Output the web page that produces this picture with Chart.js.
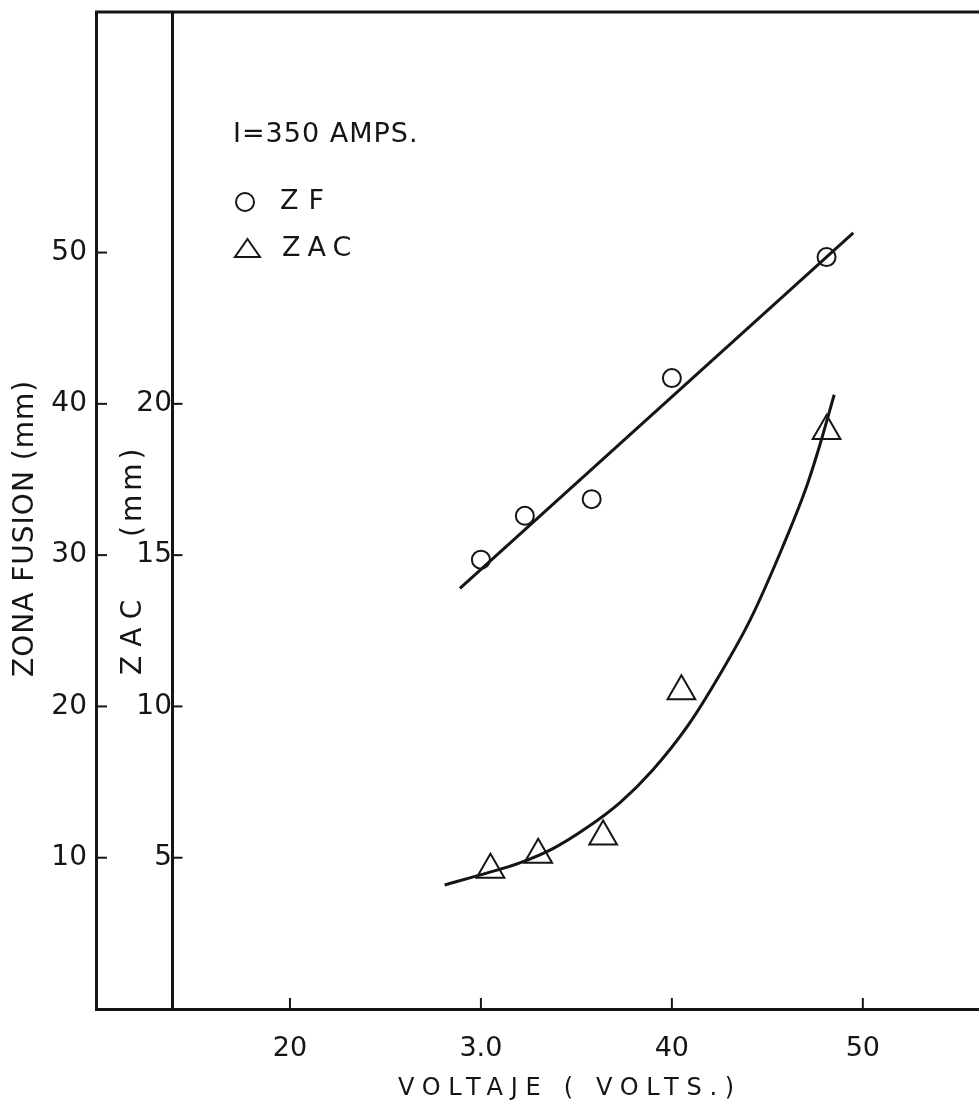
<!DOCTYPE html>
<html>
<head>
<meta charset="utf-8">
<script src="https://cdn.jsdelivr.net/npm/chart.js@4.4.1/dist/chart.umd.min.js"></script>
<style>
  html, body { margin: 0; padding: 0; background: #fff; overflow: hidden; }
  canvas { display: block; }
</style>
</head>
<body>
<!-- canvas a little wider than the window: the frame is open on the right, as in the scan -->
<canvas id="myChart" width="986" height="1111"></canvas>
<script>
// ZF (zona de fusion) measurements, circles
const zfVoltage = [30.0, 32.3, 35.8, 40.0, 48.1];
const zfWidth = [29.7, 32.6, 33.7, 41.7, 49.7];
// straight fit line through ZF, end points
const zfFitVoltage = [28.9, 49.5];
const zfFitWidth = [27.8, 51.3];

// ZAC measurements, triangles
const zacVoltage = [30.5, 33.0, 36.4, 40.5, 48.1];
const zacWidth = [4.6, 5.1, 5.7, 10.5, 19.1];
// hand drawn ZAC curve
const zacCurveVoltage = [28.1, 30.3, 32.0, 33.8, 35.5, 37.3, 39.0, 40.8, 42.5, 44.1, 45.8, 47.05, 47.75, 48.5];
const zacCurveWidth = [4.10, 4.49, 4.82, 5.31, 5.97, 6.83, 7.90, 9.33, 11.04, 12.86, 15.27, 17.26, 18.64, 20.30];

// tick labels
const voltTicks = [20, 30, 40, 50];
const voltTickLabels = ['20', '3.0', '40', '50'];
const zfTicks = [10, 20, 30, 40, 50];
const zacTicks = [5, 10, 15, 20];

const INK = '#151515';
const FONT = '"DejaVu Sans", sans-serif';

function pairs(xs, ys) {
  return xs.map((x, i) => ({ x: x, y: ys[i] }));
}

// no extra label padding, the frame must fill the page
function noPad(s) {
  s.paddingLeft = 0;
  s.paddingRight = 0;
  s.paddingTop = 0;
  s.paddingBottom = 0;
}

// frame top line, ZAC axis line, inward tick marks, titles and the legend block
const paperPlugin = {
  id: 'paper',
  afterDraw(chart) {
    const ctx = chart.ctx;
    const area = chart.chartArea;
    const sx = chart.scales.x;
    const sy = chart.scales.y;
    const sz = chart.scales.zac;

    ctx.save();
    ctx.strokeStyle = INK;
    ctx.lineCap = 'butt';

    // top line of the frame
    ctx.lineWidth = 3;
    ctx.beginPath();
    ctx.moveTo(area.left - 1, area.top);
    ctx.lineTo(area.right, area.top);
    ctx.stroke();

    // ZAC axis line
    const zx = Math.round(sx.getPixelForValue(sz.options.position.x)) + 0.5;
    ctx.beginPath();
    ctx.moveTo(zx, area.top);
    ctx.lineTo(zx, area.bottom);
    ctx.stroke();

    // inward ticks
    ctx.lineWidth = 2;
    zfTicks.forEach(v => {
      const y = sy.getPixelForValue(v);
      ctx.beginPath();
      ctx.moveTo(area.left, y);
      ctx.lineTo(area.left + 11, y);
      ctx.stroke();
    });
    zacTicks.forEach(v => {
      const y = sz.getPixelForValue(v);
      ctx.beginPath();
      ctx.moveTo(zx, y);
      ctx.lineTo(zx + 10, y);
      ctx.stroke();
    });
    voltTicks.forEach(v => {
      const x = sx.getPixelForValue(v);
      ctx.beginPath();
      ctx.moveTo(x, area.bottom);
      ctx.lineTo(x, area.bottom - 11);
      ctx.stroke();
    });

    ctx.fillStyle = INK;
    ctx.textBaseline = 'middle';
    ctx.textAlign = 'left';

    // x title
    ctx.font = '24px ' + FONT;
    ctx.letterSpacing = '7.7px';
    ctx.fillText('VOLTAJE ( VOLTS.)', 398, 1089);

    // left title, rotated
    ctx.save();
    ctx.translate(26, 677);
    ctx.rotate(-Math.PI / 2);
    ctx.font = '28px ' + FONT;
    ctx.letterSpacing = '1px';
    ctx.fillText('ZONA FUSION (mm)', 0, 0);
    ctx.restore();

    // ZAC title, rotated, with a gap for the 15 label
    ctx.save();
    ctx.translate(134, 675);
    ctx.rotate(-Math.PI / 2);
    ctx.font = '28px ' + FONT;
    ctx.letterSpacing = '9px';
    ctx.fillText('ZAC', 0, 0);
    ctx.letterSpacing = '4px';
    ctx.fillText('(mm)', 138, 0);
    ctx.restore();

    // legend block
    ctx.font = '27px ' + FONT;
    ctx.letterSpacing = '1px';
    ctx.fillText('I=350 AMPS.', 233, 135);
    ctx.letterSpacing = '10px';
    ctx.fillText('ZF', 280, 202);
    ctx.letterSpacing = '7px';
    ctx.fillText('ZAC', 282, 249);

    ctx.lineWidth = 2;
    ctx.beginPath();
    ctx.arc(245, 202, 9, 0, Math.PI * 2);
    ctx.stroke();
    ctx.beginPath();
    ctx.moveTo(247.5, 239);
    ctx.lineTo(260, 257);
    ctx.lineTo(235, 257);
    ctx.closePath();
    ctx.stroke();

    ctx.restore();
  }
};

const ctx = document.getElementById('myChart').getContext('2d');
new Chart(ctx, {
  type: 'scatter',
  data: {
    datasets: [
      {
        label: 'ZF fit',
        data: pairs(zfFitVoltage, zfFitWidth),
        showLine: true,
        borderColor: INK,
        borderWidth: 3,
        pointRadius: 0,
        yAxisID: 'y'
      },
      {
        label: 'ZF',
        data: pairs(zfVoltage, zfWidth),
        pointStyle: 'circle',
        pointRadius: 9,
        borderWidth: 2,
        borderColor: INK,
        backgroundColor: 'rgba(0,0,0,0)',
        yAxisID: 'y'
      },
      {
        label: 'ZAC curve',
        data: pairs(zacCurveVoltage, zacCurveWidth),
        showLine: true,
        cubicInterpolationMode: 'monotone',
        borderColor: INK,
        borderWidth: 3,
        pointRadius: 0,
        yAxisID: 'zac'
      },
      {
        label: 'ZAC',
        data: pairs(zacVoltage, zacWidth),
        pointStyle: 'triangle',
        pointRadius: 16,
        borderWidth: 2,
        borderColor: INK,
        backgroundColor: 'rgba(0,0,0,0)',
        yAxisID: 'zac'
      }
    ]
  },
  options: {
    responsive: false,
    animation: false,
    layout: { autoPadding: false, padding: { top: 12, left: 0, right: 0, bottom: 0 } },
    plugins: {
      legend: { display: false },
      tooltip: { enabled: false }
    },
    scales: {
      x: {
        type: 'linear',
        position: 'bottom',
        min: 9.843,
        max: 56.45,
        grid: { display: false, drawTicks: false },
        border: { display: true, width: 3, color: INK },
        afterBuildTicks: s => { s.ticks = voltTicks.map(v => ({ value: v })); },
        afterFit: s => { s.height = 102; noPad(s); },
        ticks: {
          padding: 24,
          color: INK,
          font: { family: FONT, size: 27 },
          maxRotation: 0,
          callback: v => voltTickLabels[voltTicks.indexOf(v)]
        }
      },
      y: {
        type: 'linear',
        position: 'left',
        min: 0,
        max: 65.9,
        grid: { display: false, drawTicks: false },
        border: { display: true, width: 3, color: INK },
        afterBuildTicks: s => { s.ticks = zfTicks.map(v => ({ value: v })); },
        afterFit: s => { s.width = 96; noPad(s); },
        ticks: {
          padding: 9,
          color: INK,
          font: { family: FONT, size: 28 }
        }
      },
      zac: {
        type: 'linear',
        position: { x: 13.82 },
        min: 0,
        max: 32.95,
        grid: { display: false, drawTicks: false },
        border: { display: false },
        afterBuildTicks: s => { s.ticks = zacTicks.map(v => ({ value: v })); },
        afterFit: s => { noPad(s); },
        ticks: {
          padding: 9,
          color: INK,
          font: { family: FONT, size: 28 }
        }
      }
    }
  },
  plugins: [paperPlugin]
});
</script>
</body>
</html>
